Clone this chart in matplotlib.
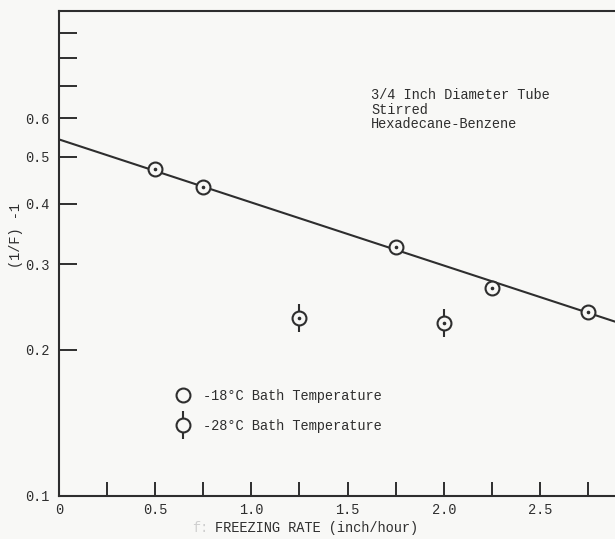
import matplotlib
matplotlib.use("Agg")
import matplotlib.pyplot as plt
from matplotlib.lines import Line2D
from matplotlib.legend_handler import HandlerTuple

# data
x_18 = [0.5, 0.75, 1.75, 2.25, 2.75]
y_18 = [0.472, 0.432, 0.326, 0.268, 0.239]
x_28 = [1.25, 2.0]
y_28 = [0.232, 0.227]
fit_x = [0.0, 3.0]
fit_y = [0.543, 0.221]

x_major = [0, 0.5, 1.0, 1.5, 2.0, 2.5]
x_minor = [0.25, 0.75, 1.25, 1.75, 2.25, 2.75]
y_major = [0.1, 0.2, 0.3, 0.4, 0.5, 0.6]
y_minor = [0.7, 0.8, 0.9]

ink = '#2e2e2e'
paper = '#f8f8f6'
font = ['Liberation Mono', 'DejaVu Sans Mono']
fs = 9.8

plt.rcParams['font.family'] = font
plt.rcParams['font.size'] = fs
plt.rcParams['text.color'] = ink

W, H = 615, 539
fig = plt.figure(figsize=(W / 100, H / 100), dpi=100, facecolor=paper)
x0, y_top, y_bot = 58.7, 10.7, 495.7
ax = fig.add_axes([x0 / W, 1 - y_bot / H, 1 - x0 / W, (y_bot - y_top) / H])
ax.set_facecolor(paper)

ax.set_yscale('log')
ax.set_ylim(0.1, 1.0)
ax.set_xlim(0, (W - x0) / 192.6)

for s in ['left', 'bottom', 'top']:
    ax.spines[s].set_color(ink)
    ax.spines[s].set_linewidth(1.5)
ax.spines['right'].set_visible(False)

ax.set_xticks(x_major, ['0', '0.5', '1.0', '1.5', '2.0', '2.5'])
ax.set_xticks(x_minor, minor=True)
ax.set_yticks(y_major, ['0.1', '0.2', '0.3', '0.4', '0.5', '0.6'])
ax.set_yticks(y_minor, minor=True)
ax.yaxis.set_minor_formatter(plt.NullFormatter())
ax.tick_params(axis='x', which='both', direction='in', length=10, width=1.4,
               color=ink, labelcolor=ink, pad=5)
ax.tick_params(axis='y', which='both', direction='in', length=13, width=1.4,
               color=ink, labelcolor=ink, pad=6.5)

# fitted line
ax.plot(fit_x, fit_y, color=ink, lw=1.5, zorder=2)

# -28 C points: circle with vertical bar
ax.plot(x_28, y_28, ls='none', marker='|', ms=20, mew=1.5, color=ink, zorder=3)
ax.plot(x_28, y_28, ls='none', marker='o', ms=10, mew=1.5, mec=ink, mfc=paper, zorder=4)
# -18 C points
ax.plot(x_18, y_18, ls='none', marker='o', ms=10, mew=1.5, mec=ink, mfc=paper, zorder=4)
# centre dots
ax.plot(x_18 + x_28, y_18 + y_28, ls='none', marker='o', ms=1.6, color=ink, zorder=5)

fig.text(371 / W, 1 - 88 / H, '3/4 Inch Diameter Tube\nStirred\nHexadecane-Benzene',
         ha='left', va='top', linespacing=1.05)

h18 = Line2D([], [], ls='none', marker='o', ms=10, mew=1.5, mec=ink, mfc=paper)
h28a = Line2D([], [], ls='none', marker='|', ms=20, mew=1.5, color=ink)
h28b = Line2D([], [], ls='none', marker='o', ms=10, mew=1.5, mec=ink, mfc=paper)
ax.legend([h18, (h28a, h28b)],
          ['-18°C Bath Temperature', '-28°C Bath Temperature'],
          handler_map={tuple: HandlerTuple(ndivide=1)},
          loc='center left', bbox_to_anchor=(176 / W, 1 - 411 / H),
          bbox_transform=fig.transFigure, frameon=False,
          handlelength=1.0, handletextpad=0.95, labelspacing=1.2,
          borderpad=0, borderaxespad=0)

ax.set_ylabel('(1/F) -1', color=ink)
ax.yaxis.set_label_coords((23 - x0) / (W - x0), (y_bot - 235) / (y_bot - y_top))

fig.text(317 / W, 1 - 528 / H, 'FREEZING RATE (inch/hour)', ha='center', va='center')
fig.text(200 / W, 1 - 528 / H, 'f:', ha='center', va='center', color='#cfcfcf')

fig.savefig('out.png', dpi=100, facecolor=paper)
